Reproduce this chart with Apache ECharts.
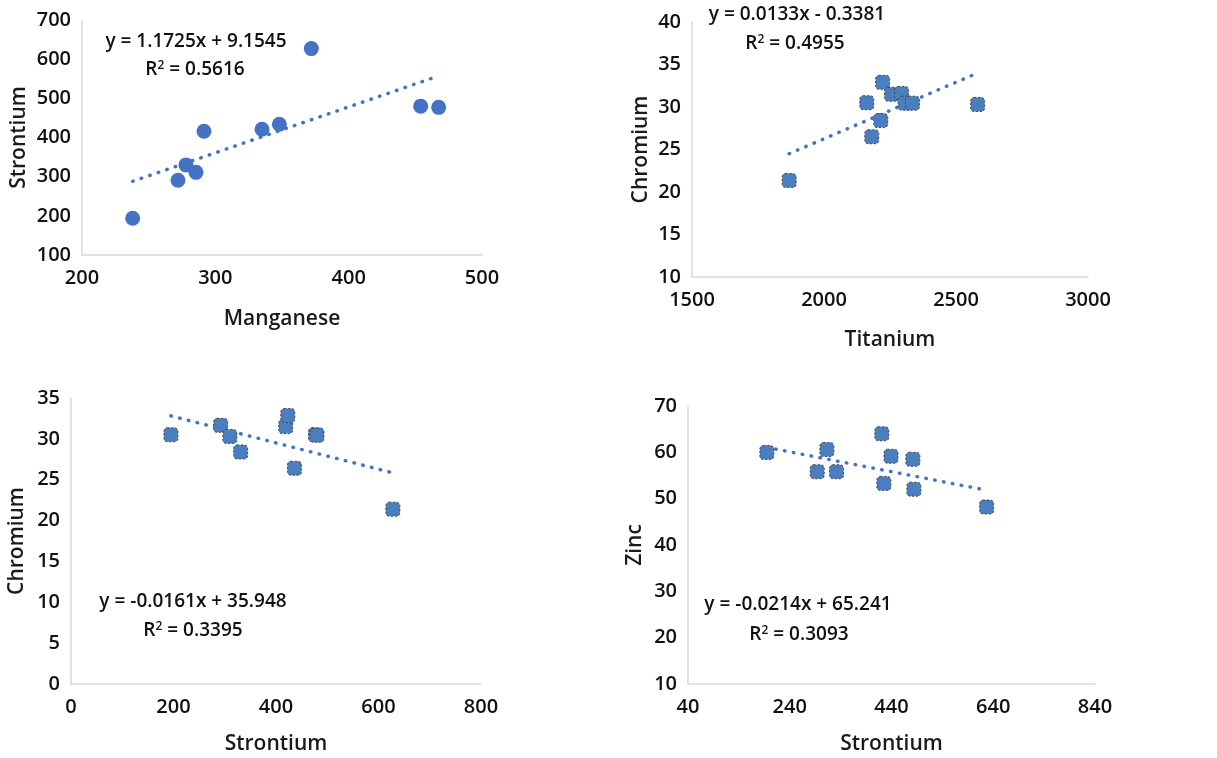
<!DOCTYPE html>
<html>
<head>
<meta charset="utf-8">
<script src="https://cdn.jsdelivr.net/npm/echarts@6/dist/echarts.min.js"></script>
<style>
  html, body { margin: 0; padding: 0; background: #fff; }
  #panel { width: 1217px; height: 758px; }
</style>
</head>
<body>
<div id="panel"></div>
<script>
  // 1: Manganese vs Strontium
  const mnX = [238, 272, 278, 285.5, 291.5, 335, 348, 372, 454, 467.5];
  const mnSrY = [194, 291, 330, 311, 416, 421, 434, 627, 480, 477];
  const fit1 = [1.1725, 9.1545];
  // 2: Titanium vs Chromium
  const tiX = [1868, 2162, 2181, 2215, 2222, 2256, 2294, 2307, 2335, 2582];
  const tiCrY = [21.35, 30.5, 26.5, 28.4, 32.9, 31.5, 31.6, 30.45, 30.45, 30.3];
  const fit2 = [0.0133, -0.3381];
  // 3: Strontium vs Chromium
  const srX3 = [195, 292, 310, 331, 419, 423, 436, 477, 480, 628];
  const srCrY = [30.5, 31.65, 30.3, 28.4, 31.5, 32.85, 26.4, 30.5, 30.45, 21.4];
  const fit3 = [-0.0161, 35.948];
  // 4: Strontium vs Zinc
  const srX4 = [195, 294, 313, 332, 421, 425, 439, 482, 484, 627];
  const srZnY = [59.95, 55.8, 60.6, 55.8, 64.0, 53.3, 59.15, 58.5, 52.05, 48.2];
  const fit4 = [-0.0214, 65.241];

  const blue = '#4472c4';
  const font = 'Open Sans';

  function pairs(xs, ys) {
    return xs.map((x, i) => [x, ys[i]]);
  }
  function trend(xs, fit) {
    const lo = Math.min(...xs), hi = Math.max(...xs);
    return [[lo, fit[0] * lo + fit[1]], [hi, fit[0] * hi + fit[1]]];
  }

  function xAx(idx, name, min, max, interval, gap, fmt) {
    return {
      gridIndex: idx, type: 'value', min: min, max: max, interval: interval,
      name: name, nameLocation: 'middle', nameGap: gap,
      nameTextStyle: { fontFamily: font, fontSize: 21, fontWeight: 600, color: '#1a1a1a' },
      axisLine: { show: true, lineStyle: { color: '#d9d9d9', width: 1.5 } },
      axisTick: { show: false },
      splitLine: { show: false },
      axisLabel: { fontFamily: font, fontSize: 20, fontWeight: 600, color: '#111', margin: 13,
        formatter: fmt || (v => String(v)) }
    };
  }
  function yAx(idx, name, min, max, interval, gap) {
    return {
      gridIndex: idx, type: 'value', min: min, max: max, interval: interval,
      name: name, nameLocation: 'middle', nameGap: gap,
      nameTextStyle: { fontFamily: font, fontSize: 21, fontWeight: 600, color: '#1a1a1a' },
      axisLine: { show: true, lineStyle: { color: '#d9d9d9', width: 1.5 } },
      axisTick: { show: false },
      splitLine: { show: false },
      axisLabel: { fontFamily: font, fontSize: 20, fontWeight: 600, color: '#111', margin: 11 }
    };
  }

  function dots(idx, data, symbol) {
    return {
      type: 'scatter', xAxisIndex: idx, yAxisIndex: idx, data: data,
      symbol: symbol, symbolSize: symbol === 'circle' ? 15 : 14,
      itemStyle: symbol === 'circle'
        ? { color: blue, opacity: 1 }
        : { color: '#4a7ebf', opacity: 1, borderColor: '#444', borderWidth: 1, borderType: [2, 2] },
      z: 3
    };
  }
  function line(idx, data) {
    return {
      type: 'line', xAxisIndex: idx, yAxisIndex: idx, data: data,
      symbol: 'none', silent: true,
      lineStyle: { color: blue, width: 3.5, type: [0.5, 8.5], cap: 'round' },
      z: 2
    };
  }

  function eq(x, y, text) {
    return {
      type: 'text', x: x, y: y,
      style: {
        text: text, fill: '#111', align: 'center', verticalAlign: 'middle',
        font: '600 19px "Open Sans"',
        rich: { sup: { fontSize: 12, fontWeight: 600, fontFamily: font, verticalAlign: 'top', padding: [0, 0, 8, 0] } }
      }
    };
  }

  const chart = echarts.init(document.getElementById('panel'));
  const option = {
    backgroundColor: '#fff',
    animation: false,
    grid: [
      { left: 82, top: 20, width: 400, height: 235 },
      { left: 692, top: 22, width: 396, height: 255 },
      { left: 71, top: 398, width: 410, height: 286 },
      { left: 688, top: 406, width: 407, height: 278 }
    ],
    xAxis: [
      xAx(0, 'Manganese', 200, 500, 100, 54),
      xAx(1, 'Titanium', 1500, 3000, 500, 53),
      xAx(2, 'Strontium', 0, 800, 200, 50),
      xAx(3, 'Strontium', 40, 840, 40, 50, v => ((v - 40) % 200 === 0 ? String(v) : ''))
    ],
    yAxis: [
      yAx(0, 'Strontium', 100, 700, 100, 52),
      yAx(1, 'Chromium', 10, 40, 5, 40),
      yAx(2, 'Chromium', 0, 35, 5, 43),
      yAx(3, 'Zinc', 10, 70, 10, 42)
    ],
    series: [
      line(0, trend(mnX, fit1)),
      dots(0, pairs(mnX, mnSrY), 'circle'),
      line(1, trend(tiX, fit2)),
      dots(1, pairs(tiX, tiCrY), 'roundRect'),
      line(2, trend(srX3, fit3)),
      dots(2, pairs(srX3, srCrY), 'roundRect'),
      line(3, trend(srX4, fit4)),
      dots(3, pairs(srX4, srZnY), 'roundRect')
    ],
    graphic: [
      eq(196, 42, 'y = 1.1725x + 9.1545'),
      eq(195, 70, 'R{sup|2} = 0.5616'),
      eq(797, 15, 'y = 0.0133x - 0.3381'),
      eq(795, 44, 'R{sup|2} = 0.4955'),
      eq(193, 602, 'y = -0.0161x + 35.948'),
      eq(193, 631, 'R{sup|2} = 0.3395'),
      eq(798, 605, 'y = -0.0214x + 65.241'),
      eq(799, 635, 'R{sup|2} = 0.3093')
    ]
  };
  chart.setOption(option, true);
</script>
</body>
</html>
